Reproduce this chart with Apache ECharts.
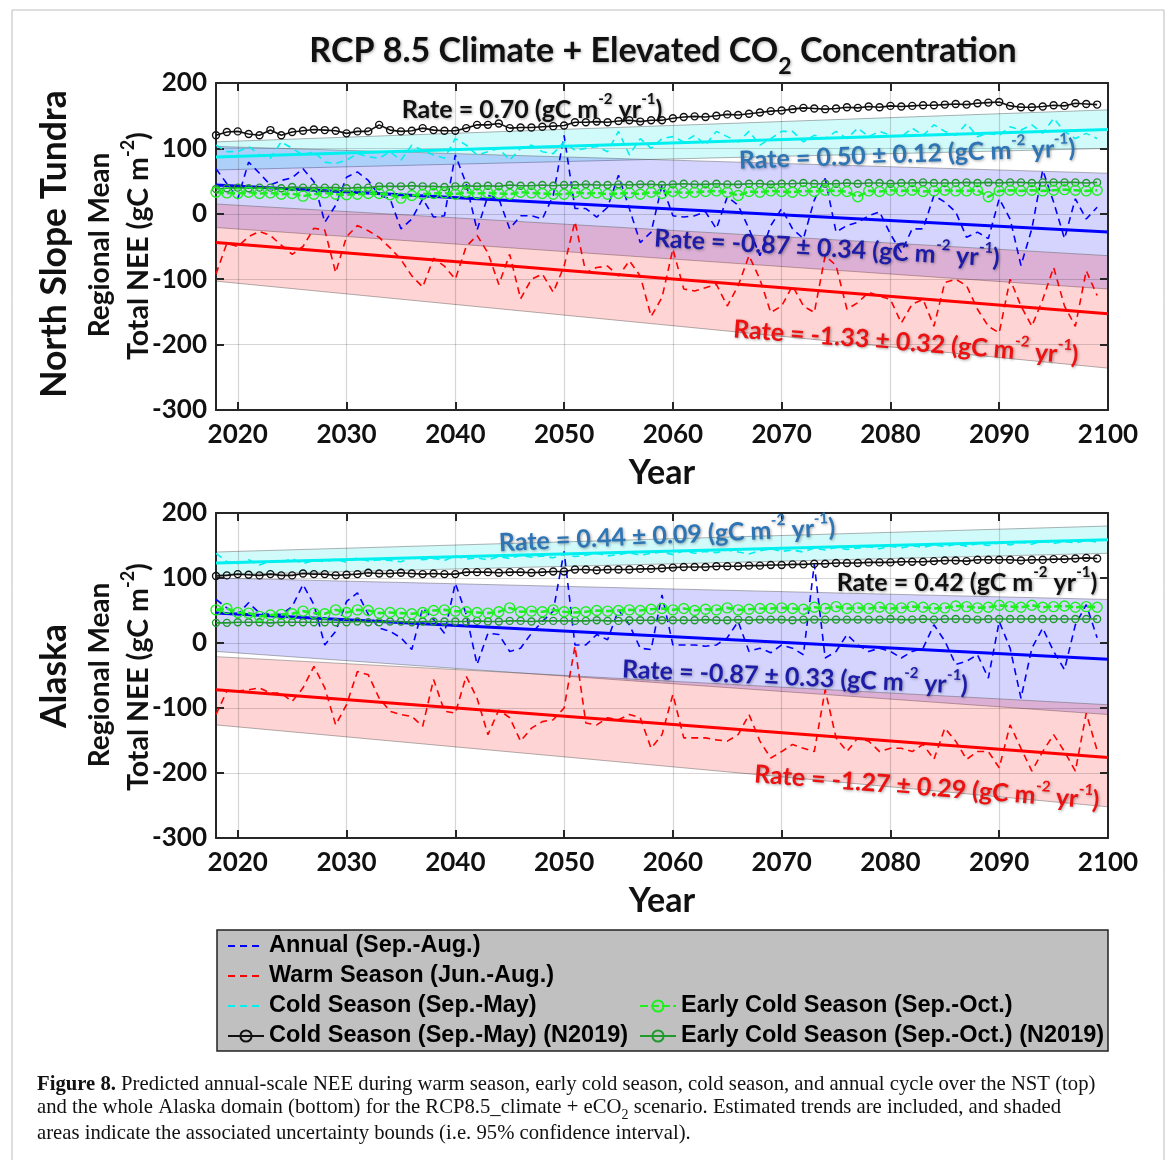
<!DOCTYPE html>
<html>
<head>
<meta charset="UTF-8">
<title>RCP 8.5 Climate + Elevated CO2 Concentration</title>
<script src="https://cdn.jsdelivr.net/npm/echarts@6/dist/echarts.min.js"></script>
<style>
  html, body { margin: 0; padding: 0; background: #fff; }
  #main { width: 1171px; height: 1160px; }
</style>
</head>
<body>
<div id="main"></div>
<script>
// years of the simulation
var years = [2018, 2019, 2020, 2021, 2022, 2023, 2024, 2025, 2026, 2027,
  2028, 2029, 2030, 2031, 2032, 2033, 2034, 2035, 2036, 2037,
  2038, 2039, 2040, 2041, 2042, 2043, 2044, 2045, 2046, 2047,
  2048, 2049, 2050, 2051, 2052, 2053, 2054, 2055, 2056, 2057,
  2058, 2059, 2060, 2061, 2062, 2063, 2064, 2065, 2066, 2067,
  2068, 2069, 2070, 2071, 2072, 2073, 2074, 2075, 2076, 2077,
  2078, 2079, 2080, 2081, 2082, 2083, 2084, 2085, 2086, 2087,
  2088, 2089, 2090, 2091, 2092, 2093, 2094, 2095, 2096, 2097,
  2098, 2099];
var trendYears = [2018, 2100];
var yearTicks = [2020, 2030, 2040, 2050, 2060, 2070, 2080, 2090, 2100];

// ---- North Slope Tundra (top) ----
var nstAnnual = [69, 46, 23, 79, 62, 44, 51, 55, 69, 49,
  -13, 13, 56, 64, 51, 28, 23, -23, -8, 23,
  -5, -3, 90, 46, -25, 28, 23, -23, -3, -3,
  -8, 28, 120, 8, 8, -5, 10, 59, 8, -44,
  -28, 44, -3, -5, -3, 3, -23, 26, 13, -23,
  -64, -18, 8, -23, -38, 21, 54, -28, -18, -13,
  -3, 3, -31, -59, -23, -23, 28, 18, 3, -36,
  -28, -38, 23, -8, -79, -23, 67, 18, -38, 23,
  -8, 10];
var nstWarm = [-92, -45, -50, -35, -27, -33, -48, -62, -50, -22,
  -25, -90, -35, -18, -26, -36, -52, -70, -95, -112,
  -68, -80, -100, -50, -33, -60, -108, -62, -130, -100,
  -92, -120, -80, -12, -90, -82, -80, -95, -72, -95,
  -157, -128, -54, -115, -118, -113, -108, -141, -110, -64,
  -100, -151, -141, -110, -141, -151, -64, -79, -146, -136,
  -120, -126, -131, -167, -138, -131, -172, -105, -100, -110,
  -146, -172, -182, -100, -141, -172, -131, -82, -141, -172,
  -87, -125];
var nstCold = [105, 95, 95, 103, 90, 85, 110, 100, 90, 95,
  79, 77, 82, 92, 87, 85, 95, 82, 105, 97,
  90, 85, 115, 105, 90, 95, 100, 82, 100, 105,
  95, 92, 110, 97, 100, 103, 95, 126, 90, 115,
  100, 115, 118, 110, 120, 105, 126, 118, 110, 126,
  105, 115, 126, 126, 110, 120, 115, 126, 115, 131,
  118, 126, 120, 118, 131, 120, 136, 126, 120, 138,
  118, 123, 120, 133, 128, 136, 123, 146, 126, 115,
  123, 115];
var nstColdN2019 = [120, 125, 126, 122, 120, 128, 120, 125, 127, 129,
  128, 127, 123, 126, 126, 136, 128, 126, 127, 131,
  128, 127, 127, 131, 136, 136, 138, 131, 132, 132,
  133, 134, 135, 140, 140, 141, 140, 142, 143, 141,
  143, 143, 146, 148, 149, 148, 150, 152, 151, 153,
  155, 157, 158, 160, 162, 161, 160, 161, 163, 162,
  164, 163, 165, 164, 165, 166, 166, 167, 168, 167,
  169, 170, 171, 165, 163, 163, 164, 166, 165, 169,
  168, 167];
var nstEarly = [33, 32, 31, 33, 31, 32, 30, 31, 27, 30,
  32, 30, 29, 30, 31, 31, 29, 24, 28, 30,
  31, 32, 30, 33, 31, 32, 31, 30, 33, 32,
  31, 30, 30, 33, 31, 32, 30, 31, 32, 30,
  33, 31, 34, 32, 33, 34, 35, 33, 28, 34,
  33, 35, 34, 33, 35, 34, 36, 35, 34, 26,
  35, 34, 36, 35, 36, 34, 35, 36, 35, 35,
  36, 26, 35, 36, 35, 36, 35, 36, 37, 36,
  35, 36];
var nstEarlyN2019 = [38, 39, 40, 39, 40, 40, 39, 41, 40, 40,
  40, 40, 39, 40, 40, 42, 42, 42, 43, 42,
  42, 41, 42, 43, 42, 43, 42, 44, 43, 43,
  44, 43, 44, 44, 45, 44, 44, 45, 44, 45,
  45, 44, 45, 46, 45, 45, 46, 45, 45, 46,
  46, 45, 46, 46, 47, 46, 46, 46, 47, 46,
  47, 47, 46, 47, 47, 48, 47, 47, 47, 48,
  47, 48, 47, 48, 48, 47, 48, 48, 48, 48,
  47, 48];
// trend line values at 2018 and 2100
var nstTrendAnnual = [44, -28];
var nstTrendWarm = [-44, -153];
var nstTrendCold = [87, 129];
// confidence bands: [low 2018, high 2018, low 2100, high 2100]
var nstBandAnnual = [-21, 103, -115, 62];
var nstBandWarm = [-103, 15, -236, -64];
var nstBandCold = [67, 110, 100, 159];

// ---- Alaska (bottom) ----
var akAnnual = [67, 54, 44, 62, 46, 44, 44, 56, 90, 59,
  -3, 18, 64, 77, 44, 23, 18, 8, -10, 54,
  36, 15, 92, 44, -33, 15, 13, -13, -8, 15,
  33, 49, 141, -3, -3, 13, 5, 51, 28, -8,
  -10, 74, -3, -3, -3, -5, -3, 8, 33, -13,
  -8, -15, -3, -8, -18, 121, -23, -13, 13, -3,
  -13, -8, -13, -23, -13, -8, 28, 3, -33, -28,
  -18, -54, 33, -8, -85, -8, 23, -13, -41, 28,
  59, 8];
var akWarm = [-110, -74, -74, -72, -69, -77, -77, -90, -69, -36,
  -69, -126, -95, -44, -49, -85, -105, -110, -113, -128,
  -56, -105, -108, -51, -85, -141, -103, -115, -151, -131,
  -121, -118, -100, -5, -123, -126, -115, -118, -110, -115,
  -162, -141, -79, -146, -146, -146, -149, -151, -141, -110,
  -151, -177, -167, -156, -162, -167, -72, -146, -167, -146,
  -151, -167, -162, -162, -167, -156, -179, -131, -151, -179,
  -167, -167, -192, -126, -162, -197, -167, -141, -167, -197,
  -108, -165];
var akCold = [138, 125, 122, 128, 120, 126, 124, 130, 122, 127,
  125, 129, 124, 131, 126, 128, 127, 125, 131, 128,
  130, 127, 134, 129, 131, 128, 133, 130, 135, 132,
  134, 131, 137, 133, 135, 138, 134, 136, 139, 135,
  138, 140, 136, 142, 138, 141, 139, 143, 140, 137,
  142, 145, 141, 143, 140, 146, 143, 147, 144, 146,
  148, 145, 149, 146, 150, 147, 151, 148, 152, 149,
  153, 150, 154, 151, 155, 152, 157, 153, 156, 154,
  158, 155];
var akColdN2019 = [103, 104, 106, 105, 104, 106, 104, 104, 107, 106,
  106, 104, 105, 106, 108, 107, 107, 108, 107, 106,
  107, 106, 106, 109, 109, 109, 108, 109, 109, 108,
  109, 110, 110, 113, 113, 112, 113, 113, 113, 114,
  114, 115, 116, 117, 117, 117, 118, 118, 118, 119,
  119, 120, 120, 121, 121, 122, 122, 123, 123, 123,
  124, 124, 124, 125, 125, 125, 126, 127, 127, 126,
  128, 128, 128, 128, 127, 128, 128, 129, 129, 130,
  131, 130];
var akEarly = [51, 53, 47, 46, 41, 43, 44, 45, 49, 46,
  45, 51, 47, 51, 50, 46, 47, 46, 45, 47,
  50, 51, 49, 48, 47, 46, 48, 54, 48, 49,
  48, 51, 48, 47, 48, 50, 49, 50, 51, 50,
  52, 53, 51, 53, 50, 52, 51, 54, 51, 52,
  53, 53, 54, 53, 52, 55, 53, 56, 53, 54,
  53, 55, 53, 54, 56, 55, 53, 54, 57, 56,
  54, 55, 58, 56, 55, 58, 55, 56, 57, 55,
  56, 55];
var akEarlyN2019 = [31, 31, 32, 32, 32, 31, 32, 32, 32, 32,
  32, 32, 32, 33, 32, 32, 33, 33, 32, 33,
  33, 33, 33, 33, 34, 33, 33, 34, 34, 33,
  34, 34, 34, 34, 34, 35, 34, 34, 35, 35,
  35, 35, 35, 35, 35, 36, 35, 35, 36, 35,
  36, 36, 36, 35, 36, 36, 36, 36, 36, 36,
  36, 36, 37, 36, 36, 37, 36, 37, 37, 37,
  36, 37, 37, 37, 37, 37, 37, 37, 37, 37,
  37, 37];
var akTrendAnnual = [46, -25];
var akTrendWarm = [-72, -176];
var akTrendCold = [123, 159];
var akBandAnnual = [-13, 100, -110, 67];
var akBandWarm = [-126, -21, -252, -95];
var akBandCold = [105, 140, 138, 180];

var names = {
  annual: 'Annual (Sep.-Aug.)',
  warm: 'Warm Season (Jun.-Aug.)',
  cold: 'Cold Season (Sep.-May)',
  coldN: 'Cold Season (Sep.-May) (N2019)',
  early: 'Early Cold Season (Sep.-Oct.)',
  earlyN: 'Early Cold Season (Sep.-Oct.) (N2019)'
};

var FONT = 'Lato';
var GRID_COLOR = 'rgba(0,0,0,0.16)';
var FRAME = '#262626';

function pairs(vals) {
  return years.map(function (y, i) { return [y, vals[i]]; });
}

function dashed(name, vals, color, ax) {
  return {
    type: 'line', name: name, data: pairs(vals), xAxisIndex: ax, yAxisIndex: ax,
    symbol: 'none', z: 2, animation: false,
    lineStyle: { color: color, width: 1.6, type: [7, 5] },
    itemStyle: { color: color }
  };
}

function circles(name, vals, color, size, ax, dash, width) {
  return {
    type: 'line', name: name, data: pairs(vals), xAxisIndex: ax, yAxisIndex: ax,
    symbol: 'circle', symbolSize: size, showSymbol: true, z: 4, animation: false,
    lineStyle: { color: color, width: width, type: dash ? [8, 3] : 'solid' },
    itemStyle: { color: 'rgba(255,255,255,0)', borderColor: color, borderWidth: 1.4 }
  };
}

function trend(vals, color, ax) {
  return {
    type: 'line', name: '_trend', data: [[trendYears[0], vals[0]], [trendYears[1], vals[1]]],
    xAxisIndex: ax, yAxisIndex: ax, symbol: 'none', z: 3, silent: true, animation: false,
    lineStyle: { color: color, width: 3 }
  };
}

function band(b, color, ax) {
  return {
    type: 'custom', name: '_band', xAxisIndex: ax, yAxisIndex: ax, z: 1, silent: true,
    animation: false,
    data: [[trendYears[0], b[0], b[1], trendYears[1], b[2], b[3]]],
    encode: { x: [0, 3], y: [1, 2, 4, 5] },
    renderItem: function (params, api) {
      var p1 = api.coord([api.value(0), api.value(1)]);
      var p2 = api.coord([api.value(0), api.value(2)]);
      var p3 = api.coord([api.value(3), api.value(5)]);
      var p4 = api.coord([api.value(3), api.value(4)]);
      return {
        type: 'polygon',
        shape: { points: [p1, p2, p3, p4] },
        style: { fill: color, stroke: 'rgba(80,80,80,0.55)', lineWidth: 0.8 }
      };
    }
  };
}

function panelSeries(ax, d) {
  return [
    band(d.bandCold, 'rgba(0,230,230,0.18)', ax),
    band(d.bandAnnual, 'rgba(0,0,255,0.17)', ax),
    band(d.bandWarm, 'rgba(255,0,0,0.17)', ax),
    dashed(names.annual, d.annual, '#0000ff', ax),
    dashed(names.warm, d.warm, '#ff0000', ax),
    dashed(names.cold, d.cold, '#00f0f0', ax),
    trend(d.trendCold, '#00f0f0', ax),
    trend(d.trendAnnual, '#0000ff', ax),
    trend(d.trendWarm, '#ff0000', ax),
    circles(names.coldN, d.coldN, '#111111', 7, ax, false, 1.6),
    circles(names.earlyN, d.earlyN, '#22992e', 7, ax, false, 1.6),
    circles(names.early, d.early, '#1ef01e', 10, ax, true, 2.6)
  ];
}

function xAxes(gi) {
  var bottom = {
    type: 'value', gridIndex: gi, position: 'bottom', min: 2018, max: 2100, z: 1.5,
    axisLine: { show: true, onZero: false, lineStyle: { color: FRAME, width: 2 } },
    axisTick: { show: true, inside: true, length: 8, customValues: yearTicks, lineStyle: { color: FRAME, width: 2 } },
    axisLabel: { customValues: yearTicks, color: '#111', fontFamily: FONT, fontWeight: 'bold', fontSize: 26, margin: 12,
                 formatter: function (v) { return String(v); } },
    splitLine: { show: true, lineStyle: { color: GRID_COLOR, width: 1.2 } },
    name: 'Year', nameLocation: 'middle', nameGap: 46,
    nameTextStyle: { color: '#111', fontFamily: FONT, fontWeight: 'bold', fontSize: 34 }
  };
  var top = {
    type: 'value', gridIndex: gi, position: 'top', min: 2018, max: 2100, z: 1.5,
    axisLine: { show: true, onZero: false, lineStyle: { color: FRAME, width: 2 } },
    axisTick: { show: true, inside: true, length: 8, customValues: yearTicks, lineStyle: { color: FRAME, width: 2 } },
    axisLabel: { show: false },
    splitLine: { show: false }
  };
  return [bottom, top];
}

function yAxes(gi) {
  var left = {
    type: 'value', gridIndex: gi, position: 'left', min: -300, max: 200, interval: 100, z: 1.5,
    axisLine: { show: true, onZero: false, lineStyle: { color: FRAME, width: 2 } },
    axisTick: { show: true, inside: true, length: 8, lineStyle: { color: FRAME, width: 2 } },
    axisLabel: { color: '#111', fontFamily: FONT, fontWeight: 'bold', fontSize: 26, margin: 9 },
    splitLine: { show: true, lineStyle: { color: GRID_COLOR, width: 1.2 } }
  };
  var right = {
    type: 'value', gridIndex: gi, position: 'right', min: -300, max: 200, interval: 100, z: 1.5,
    axisLine: { show: true, onZero: false, lineStyle: { color: FRAME, width: 2 } },
    axisTick: { show: true, inside: true, length: 8, lineStyle: { color: FRAME, width: 2 } },
    axisLabel: { show: false },
    splitLine: { show: false }
  };
  return [left, right];
}

function supText(a, b, c, d, e) {
  return '{n|' + a + '}{s|' + b + '}{n|' + c + '}{s|' + d + '}{n|' + e + '}';
}

function rateLabel(text, x, y, deg, color) {
  return {
    type: 'text', x: x, y: y, rotation: deg * Math.PI / 180, z: 20,
    style: {
      text: text, align: 'center', verticalAlign: 'middle',
      rich: {
        n: { fontFamily: FONT, fontWeight: 'bold', fontSize: 25, lineHeight: 30, fill: color, verticalAlign: 'bottom',
             textShadowColor: 'rgba(0,0,0,0.35)', textShadowBlur: 3, textShadowOffsetX: 1, textShadowOffsetY: 1 },
        s: { fontFamily: FONT, fontWeight: 'bold', fontSize: 15, lineHeight: 30, fill: color, verticalAlign: 'top',
             textShadowColor: 'rgba(0,0,0,0.35)', textShadowBlur: 3, textShadowOffsetX: 1, textShadowOffsetY: 1 }
      }
    }
  };
}

function vertText(text, x, y, size) {
  return {
    type: 'text', x: x, y: y, rotation: Math.PI / 2, z: 20,
    style: {
      text: text, align: 'center', verticalAlign: 'middle',
      rich: {
        n: { fontFamily: FONT, fontWeight: 'bold', fontSize: size, lineHeight: size + 6, fill: '#111', verticalAlign: 'bottom' },
        s: { fontFamily: FONT, fontWeight: 'bold', fontSize: Math.round(size * 0.62), lineHeight: size + 6, fill: '#111', verticalAlign: 'top' }
      }
    }
  };
}

var nst = {
  annual: nstAnnual, warm: nstWarm, cold: nstCold, coldN: nstColdN2019, early: nstEarly, earlyN: nstEarlyN2019,
  trendAnnual: nstTrendAnnual, trendWarm: nstTrendWarm, trendCold: nstTrendCold,
  bandAnnual: nstBandAnnual, bandWarm: nstBandWarm, bandCold: nstBandCold
};
var ak = {
  annual: akAnnual, warm: akWarm, cold: akCold, coldN: akColdN2019, early: akEarly, earlyN: akEarlyN2019,
  trendAnnual: akTrendAnnual, trendWarm: akTrendWarm, trendCold: akTrendCold,
  bandAnnual: akBandAnnual, bandWarm: akBandWarm, bandCold: akBandCold
};

var legendText = { color: '#000', fontFamily: 'Liberation Sans', fontWeight: 'bold', fontSize: 23.5, lineHeight: 24 };
var noSymbol = { opacity: 0 };

var option = {
  backgroundColor: '#fff',
  animation: false,
  grid: [
    { left: 216, top: 83, width: 892, height: 327 },
    { left: 216, top: 513, width: 892, height: 325 }
  ],
  xAxis: xAxes(0).concat(xAxes(1)),
  yAxis: yAxes(0).concat(yAxes(1)),
  legend: [
    {
      left: 222, top: 929, orient: 'vertical', itemGap: 6, itemWidth: 36, itemHeight: 14,
      selectedMode: false, z: 10, textStyle: legendText,
      data: [
        { name: names.annual, itemStyle: noSymbol },
        { name: names.warm, itemStyle: noSymbol },
        { name: names.cold, itemStyle: noSymbol },
        names.coldN
      ]
    },
    {
      left: 634, top: 989, orient: 'vertical', itemGap: 6, itemWidth: 36, itemHeight: 14,
      selectedMode: false, z: 10, textStyle: legendText,
      data: [names.early, names.earlyN]
    }
  ],
  series: panelSeries(0, nst).concat(panelSeries(2, ak)),
  graphic: [
    // figure frame
    { type: 'rect', z: -10, shape: { x: 12, y: 10, width: 1152, height: 1160 },
      style: { fill: 'none', stroke: '#bdbdbd', lineWidth: 1 } },
    // legend box
    { type: 'rect', z: 0, shape: { x: 217, y: 930, width: 891, height: 121 },
      style: { fill: '#c0c0c0', stroke: '#222', lineWidth: 1.5 } },
    // title
    {
      type: 'text', x: 663, y: 56, z: 20,
      style: {
        text: '{t|RCP 8.5 Climate + Elevated CO}{b|2}{t| Concentration}',
        align: 'center', verticalAlign: 'middle',
        rich: {
          t: { fontFamily: FONT, fontWeight: 'bold', fontSize: 34, lineHeight: 44, fill: '#111', verticalAlign: 'top',
               textShadowColor: 'rgba(0,0,0,0.3)', textShadowBlur: 3, textShadowOffsetX: 1, textShadowOffsetY: 1 },
          b: { fontFamily: FONT, fontWeight: 'bold', fontSize: 23, lineHeight: 44, fill: '#111', verticalAlign: 'bottom',
               textShadowColor: 'rgba(0,0,0,0.3)', textShadowBlur: 3, textShadowOffsetX: 1, textShadowOffsetY: 1 }
        }
      }
    },
    // y-axis titles
    vertText('{n|North Slope Tundra}', 52, 244, 35.5),
    vertText('{n|Regional Mean}', 97, 245, 28),
    vertText('{n|Total NEE (gC m}{s|-2}{n|)}', 136, 246, 28.5),
    vertText('{n|Alaska}', 52, 676, 35.5),
    vertText('{n|Regional Mean}', 97, 675, 28),
    vertText('{n|Total NEE (gC m}{s|-2}{n|)}', 136, 677, 28.5),
    // rate annotations, top panel
    rateLabel(supText('Rate = 0.70 (gC m', '-2', ' yr', '-1', ')'), 532, 107, 0, '#111'),
    rateLabel(supText('Rate = 0.50 \u00b1 0.12 (gC m', '-2', ' yr', '-1', ')'), 907, 152, 2.1, '#2e75b6'),
    rateLabel(supText('Rate = -0.87 \u00b1 0.34 (gC m', '-2', ' yr', '-1', ')'), 827, 246, -3.3, '#1c1ca8'),
    rateLabel(supText('Rate = -1.33 \u00b1 0.32 (gC m', '-2', ' yr', '-1', ')'), 906, 340, -4.4, '#ee1111'),
    // rate annotations, bottom panel
    rateLabel(supText('Rate = 0.44 \u00b1 0.09 (gC m', '-2', ' yr', '-1', ')'), 667, 533, 2.6, '#2e75b6'),
    rateLabel(supText('Rate = 0.42 (gC m', '-2', ' yr', '-1', ')'), 967, 580, 0, '#111'),
    rateLabel(supText('Rate = -0.87 \u00b1 0.33 (gC m', '-2', ' yr', '-1', ')'), 795, 675, -2.7, '#1c1ca8'),
    rateLabel(supText('Rate = -1.27 \u00b1 0.29 (gC m', '-2', ' yr', '-1', ')'), 927, 785, -4.4, '#ee1111'),
    // caption
    {
      type: 'text', x: 37, y: 1085, z: 20,
      style: {
        text: '{b|Figure 8.}{r| Predicted annual-scale NEE during warm season, early cold season, cold season, and annual cycle over the NST (top)}',
        align: 'left', verticalAlign: 'middle',
        rich: {
          b: { fontFamily: 'Liberation Serif', fontWeight: 'bold', fontSize: 20.7, fill: '#111' },
          r: { fontFamily: 'Liberation Serif', fontSize: 20.7, fill: '#111' }
        }
      }
    },
    {
      type: 'text', x: 37, y: 1110, z: 20,
      style: {
        text: '{r|and the whole Alaska domain (bottom) for the RCP8.5_climate + eCO}{u|2}{r| scenario. Estimated trends are included, and shaded}',
        align: 'left', verticalAlign: 'middle',
        rich: {
          r: { fontFamily: 'Liberation Serif', fontSize: 20.7, lineHeight: 25, fill: '#111', verticalAlign: 'top' },
          u: { fontFamily: 'Liberation Serif', fontSize: 14, lineHeight: 25, fill: '#111', verticalAlign: 'bottom' }
        }
      }
    },
    {
      type: 'text', x: 37, y: 1134, z: 20,
      style: {
        text: 'areas indicate the associated uncertainty bounds (i.e. 95% confidence interval).',
        align: 'left', verticalAlign: 'middle',
        fontFamily: 'Liberation Serif', fontSize: 20.7, fill: '#111'
      }
    }
  ]
};

var chart = echarts.init(document.getElementById('main'));
chart.setOption(option);
</script>
</body>
</html>
